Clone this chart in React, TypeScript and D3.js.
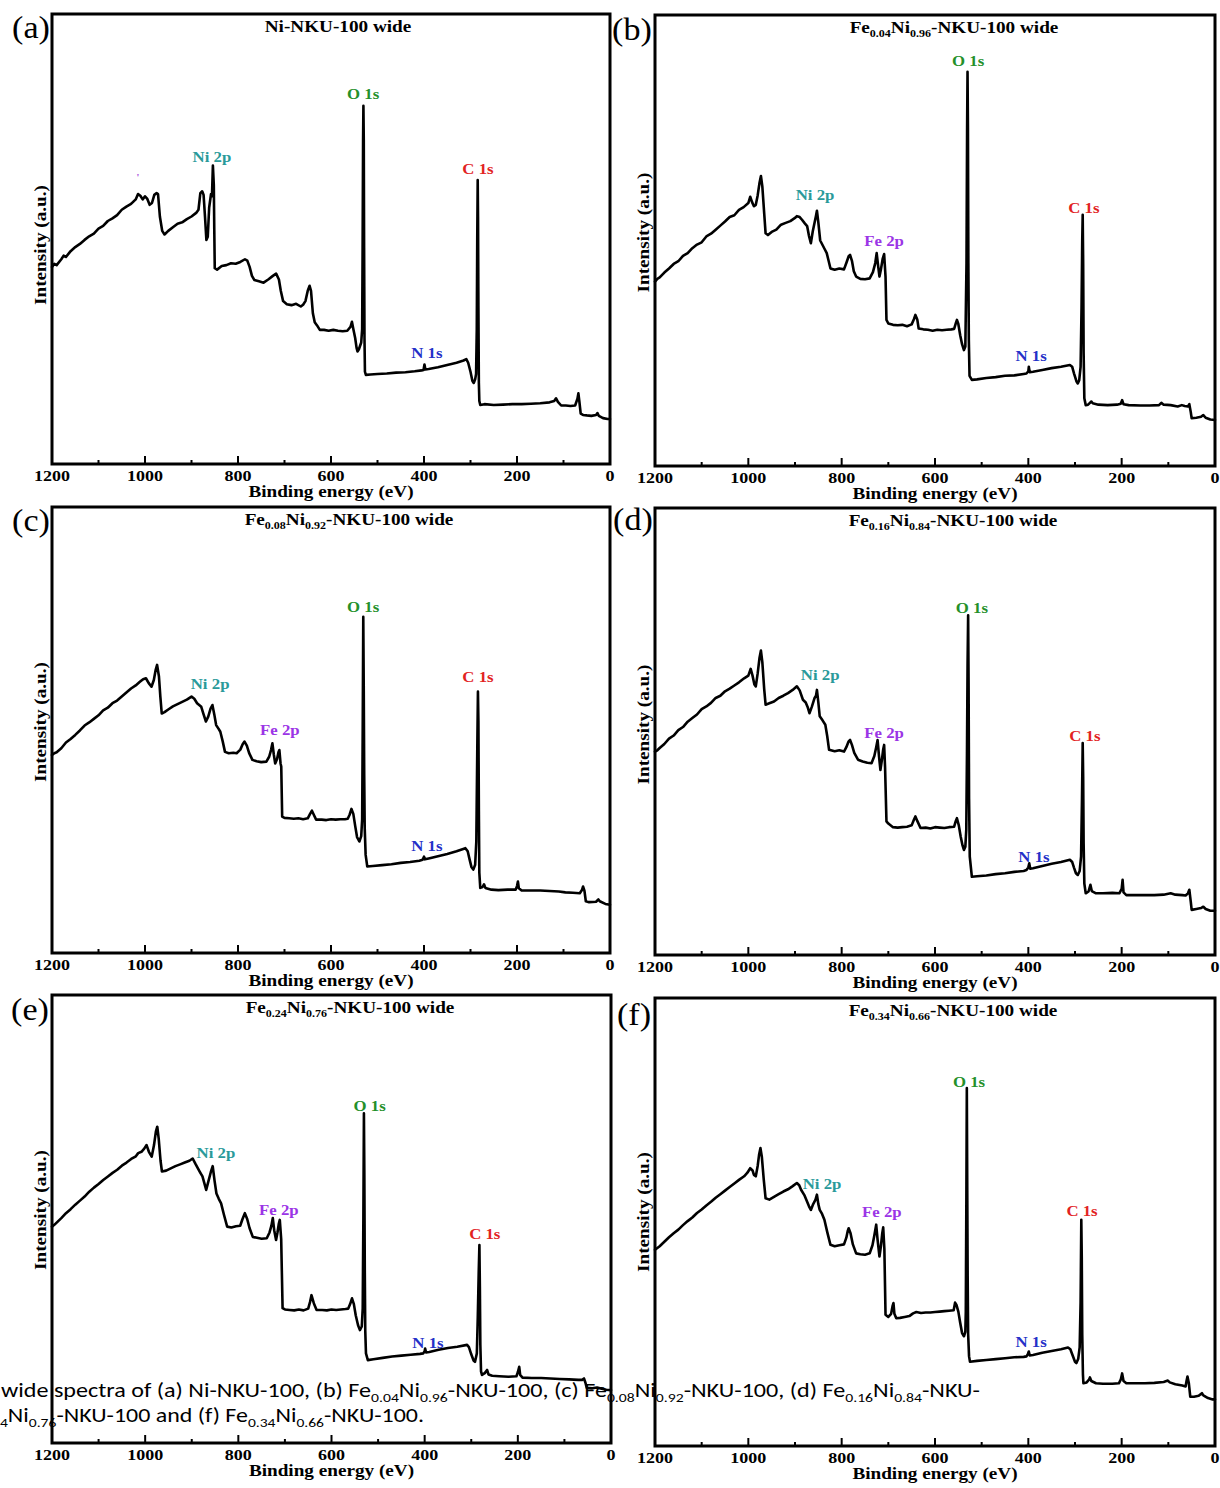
import React from "react";
import * as d3 from "d3";

// ---------- axis ticks ----------
const majorTicks = [1200, 1000, 800, 600, 400, 200, 0];
const minorTicks = [1100, 900, 700, 500, 300, 100];

// ---------- spectra: [binding energy (eV), intensity (a.u., 0-100 of frame)] ----------
const spectrumA: [number, number][] = [
  [1200, 43.8], [1195, 44.5], [1190, 44.2], [1180, 45.5], [1175, 46.3], [1170, 46.0], [1160, 47.3], [1150, 48.2],
  [1140, 48.9], [1130, 49.8], [1120, 50.6], [1110, 51.2], [1100, 52.3], [1090, 52.9], [1080, 54.0], [1070, 54.6],
  [1060, 55.3], [1050, 56.5], [1040, 57.2], [1030, 57.8], [1020, 58.8], [1015, 60.0], [1010, 59.6], [1005, 58.8],
  [1000, 59.5], [995, 58.9], [990, 57.6], [985, 58.0], [980, 59.8], [975, 60.2], [972, 60.0], [968, 55.0],
  [963, 51.8], [958, 51.0], [950, 51.8], [940, 52.6], [930, 53.4], [920, 53.7], [910, 54.4], [900, 55.0],
  [890, 55.8], [885, 56.5], [881, 60.2], [877, 60.6], [874, 59.8], [871, 55.0], [868, 49.8], [865, 50.5],
  [862, 57.0], [858, 60.0], [856, 59.5], [854, 66.3], [852, 62.0], [851, 52.0], [850, 43.5], [845, 43.2],
  [835, 44.0], [825, 44.2], [815, 44.6], [805, 44.5], [795, 44.9], [785, 45.5], [780, 45.2], [775, 43.8],
  [770, 41.8], [765, 40.9], [755, 40.6], [745, 40.3], [735, 41.0], [725, 41.8], [718, 42.3], [712, 41.0],
  [708, 38.5], [703, 36.2], [695, 35.5], [685, 35.3], [675, 35.6], [665, 35.0], [660, 35.4], [655, 36.2],
  [650, 38.5], [646, 39.6], [643, 38.5], [639, 33.5], [635, 31.5], [630, 30.8], [624, 29.8], [615, 29.8],
  [605, 29.6], [595, 29.8], [585, 29.6], [575, 29.5], [565, 29.6], [558, 30.5], [555, 31.6], [552, 30.0],
  [548, 28.0], [545, 25.8], [543, 25.0], [540, 25.5], [535, 27.0], [533, 30.0], [532, 48.0], [531, 72.0],
  [530.3, 79.6], [529.5, 72.0], [528.8, 48.0], [528, 28.0], [527, 20.5], [525, 19.8], [515, 19.9], [500, 20.0],
  [480, 20.1], [460, 20.3], [440, 20.4], [420, 20.6], [405, 20.8], [401, 20.9], [399, 22.1], [397, 21.0],
  [390, 21.1], [370, 21.5], [350, 22.0], [330, 22.5], [315, 23.0], [309, 23.3], [305, 22.5], [300, 20.5],
  [296, 18.5], [293, 18.0], [290, 18.8], [288, 20.0], [286.5, 30.0], [285.5, 50.0], [284.5, 63.1], [283.8, 55.0],
  [283, 35.0], [282, 18.0], [281, 14.0], [279, 13.1], [270, 13.3], [250, 13.1], [230, 13.2], [210, 13.3],
  [190, 13.3], [170, 13.4], [150, 13.5], [130, 13.7], [120, 14.0], [116, 14.6], [112, 13.8], [105, 13.0],
  [95, 13.0], [85, 12.9], [75, 13.0], [70, 14.5], [68, 15.7], [66, 14.0], [63, 11.2], [58, 10.9],
  [50, 10.8], [40, 10.7], [30, 10.9], [27, 11.3], [24, 10.7], [15, 10.2], [5, 10.0], [0, 10.0],
];

const spectrumB: [number, number][] = [
  [1200, 40.9], [1195, 41.5], [1190, 41.8], [1180, 42.9], [1170, 43.8], [1160, 44.8], [1150, 45.4], [1140, 46.6],
  [1130, 47.2], [1120, 48.3], [1110, 49.1], [1100, 49.6], [1090, 50.9], [1080, 51.5], [1070, 52.4], [1060, 53.3],
  [1050, 54.2], [1040, 55.2], [1030, 55.6], [1020, 56.8], [1010, 57.4], [1000, 58.3], [996, 59.7], [992, 58.5],
  [988, 57.6], [984, 57.9], [980, 60.0], [976, 62.8], [973, 64.3], [970, 62.0], [966, 56.0], [963, 51.6],
  [958, 51.2], [950, 51.9], [940, 52.4], [930, 53.5], [920, 53.9], [910, 54.3], [900, 55.0], [896, 55.4],
  [890, 55.2], [885, 54.6], [879, 53.8], [874, 53.2], [870, 51.0], [866, 49.4], [862, 52.0], [858, 54.0],
  [855, 55.5], [853, 56.6], [850, 54.0], [846, 50.0], [841, 49.0], [836, 48.0], [832, 47.2], [828, 45.5],
  [824, 43.8], [815, 43.5], [805, 43.8], [795, 43.6], [790, 45.0], [785, 46.5], [782, 46.8], [778, 45.5],
  [774, 43.2], [769, 42.0], [760, 41.5], [750, 41.4], [740, 41.6], [733, 43.0], [728, 45.0], [725, 47.2],
  [722, 44.5], [719, 42.0], [716, 43.5], [712, 46.0], [709, 47.0], [706, 42.0], [704, 32.4], [700, 31.6],
  [690, 31.3], [680, 31.2], [670, 31.3], [660, 31.0], [650, 31.4], [645, 32.6], [642, 33.5], [638, 32.5],
  [635, 30.5], [625, 30.3], [615, 30.2], [605, 30.0], [595, 30.2], [585, 30.1], [575, 30.2], [565, 30.3],
  [559, 30.4], [555, 31.8], [553, 32.4], [550, 31.5], [546, 29.0], [542, 27.0], [538, 25.7], [535, 26.5],
  [532.5, 45.0], [531.2, 75.0], [530.3, 87.4], [529.4, 75.0], [528.5, 45.0], [527.5, 28.0], [526, 20.0], [521, 19.1],
  [510, 19.2], [490, 19.5], [470, 19.7], [450, 20.0], [430, 20.1], [410, 20.4], [404, 20.5], [400, 21.0],
  [399, 22.0], [397, 20.8], [390, 20.9], [370, 21.3], [350, 21.7], [330, 22.0], [311, 22.4], [306, 22.0],
  [302, 20.5], [297, 18.8], [294, 18.3], [291, 19.0], [288, 22.0], [286, 35.0], [284.5, 50.0], [283.5, 55.7],
  [282.5, 45.0], [281.5, 25.0], [280, 15.0], [277, 13.5], [272, 13.6], [268, 14.0], [265, 14.3], [262, 13.9],
  [250, 13.6], [230, 13.5], [210, 13.6], [202, 13.8], [199, 14.6], [196, 13.7], [185, 13.5], [160, 13.4],
  [140, 13.4], [120, 13.5], [115, 14.0], [110, 13.6], [95, 13.5], [80, 13.2], [71, 13.5], [65, 13.3],
  [58, 13.2], [55, 13.7], [52, 12.0], [50, 10.6], [40, 10.7], [30, 10.9], [25, 11.3], [20, 10.7],
  [10, 10.3], [0, 10.2],
];

const spectrumC: [number, number][] = [
  [1200, 44.4], [1195, 44.8], [1190, 45.0], [1180, 45.9], [1170, 47.2], [1160, 48.0], [1150, 48.9], [1140, 49.9],
  [1130, 51.0], [1120, 51.7], [1110, 52.5], [1100, 53.3], [1090, 54.4], [1080, 55.0], [1070, 56.0], [1060, 56.6],
  [1050, 57.5], [1040, 58.4], [1030, 59.3], [1020, 60.0], [1011, 60.8], [1004, 61.4], [998, 61.6], [992, 60.5],
  [986, 59.7], [981, 61.2], [977, 63.5], [974, 64.6], [970, 62.0], [967, 57.5], [964, 53.7], [958, 54.0],
  [950, 54.6], [940, 55.3], [930, 55.8], [920, 56.3], [910, 56.8], [900, 57.5], [894, 57.0], [888, 56.0],
  [879, 55.2], [874, 53.5], [869, 51.9], [864, 53.0], [859, 54.8], [855, 55.6], [851, 53.5], [847, 51.1],
  [842, 50.3], [838, 49.6], [833, 47.5], [828, 45.1], [820, 44.8], [810, 44.9], [803, 44.8], [795, 45.6],
  [790, 46.8], [786, 47.4], [781, 46.5], [776, 44.8], [769, 43.3], [760, 43.0], [750, 42.8], [739, 42.9],
  [733, 44.0], [729, 45.5], [726, 47.0], [723, 44.5], [720, 42.5], [716, 43.5], [713, 45.0], [711, 45.5],
  [708.5, 42.5], [707, 41.8], [705, 30.6], [700, 30.3], [690, 30.2], [680, 30.1], [670, 30.2], [660, 30.0],
  [650, 30.2], [645, 31.2], [641, 31.9], [637, 31.0], [632, 29.9], [620, 29.9], [610, 29.8], [600, 30.0],
  [590, 29.9], [580, 30.0], [570, 30.0], [564, 30.1], [560, 31.0], [556, 32.3], [552, 31.2], [548, 28.5],
  [544, 26.0], [539, 25.0], [535, 26.2], [533, 30.0], [531.8, 50.0], [530.6, 75.4], [529.6, 60.0], [528.6, 40.0],
  [527.5, 28.0], [525.5, 22.0], [522, 19.4], [510, 19.5], [490, 19.7], [470, 19.9], [450, 20.2], [430, 20.4],
  [410, 20.7], [403, 20.9], [400, 21.6], [398, 21.0], [390, 21.2], [370, 21.7], [350, 22.2], [330, 22.8],
  [311, 23.5], [306, 22.8], [302, 21.0], [298, 19.3], [294, 18.7], [290, 19.8], [287.5, 25.0], [285.5, 45.0],
  [284, 58.6], [283, 52.0], [282, 32.0], [281, 18.0], [279, 14.6], [274, 14.8], [271, 15.4], [268, 14.6],
  [255, 14.2], [240, 14.1], [220, 14.2], [203, 14.2], [200, 15.0], [198, 16.0], [196, 14.5], [190, 14.0],
  [170, 14.0], [150, 14.0], [130, 13.9], [110, 13.8], [96, 13.6], [80, 13.5], [65, 13.4], [60, 14.2],
  [58, 14.9], [55, 14.0], [52, 11.6], [45, 11.4], [30, 11.5], [25, 12.0], [22, 11.6], [10, 11.0], [0, 10.8],
];

const spectrumD: [number, number][] = [
  [1200, 45.5], [1195, 45.8], [1190, 46.3], [1180, 47.2], [1170, 48.4], [1160, 49.1], [1150, 50.3], [1140, 51.0],
  [1130, 52.2], [1120, 53.0], [1110, 53.8], [1100, 55.0], [1090, 55.6], [1080, 56.4], [1070, 57.5], [1060, 58.0],
  [1050, 59.0], [1040, 59.6], [1030, 60.3], [1020, 61.0], [1009, 61.9], [1000, 62.5], [995, 64.0], [991, 62.5],
  [987, 60.5], [984, 60.1], [980, 63.0], [976, 66.5], [973, 68.1], [970, 65.5], [966, 59.5], [963, 56.0],
  [955, 56.3], [945, 56.7], [935, 57.5], [925, 58.0], [915, 58.6], [905, 59.3], [896, 60.1], [890, 59.2],
  [883, 57.1], [877, 56.5], [873, 55.5], [869, 54.1], [864, 55.5], [858, 57.5], [855, 58.0], [853, 59.3],
  [850, 56.5], [847, 53.4], [841, 52.5], [835, 51.5], [831, 49.0], [827, 45.9], [815, 45.6], [805, 45.8],
  [795, 45.5], [790, 46.5], [785, 47.8], [782, 48.1], [778, 47.0], [773, 45.2], [765, 43.7], [755, 43.3],
  [745, 43.0], [736, 42.9], [730, 44.5], [726, 46.5], [723, 48.1], [720, 44.5], [717, 41.4], [714, 43.5],
  [711, 46.0], [709, 47.0], [707, 42.0], [704, 29.9], [700, 29.4], [690, 28.6], [680, 28.5], [670, 28.6],
  [660, 28.7], [650, 29.0], [645, 30.3], [642, 31.0], [638, 30.0], [631, 28.4], [620, 28.5], [610, 28.3],
  [600, 28.6], [590, 28.5], [580, 28.4], [570, 28.6], [559, 28.7], [556, 29.8], [553, 30.6], [549, 29.0],
  [545, 26.5], [541, 24.5], [538, 23.5], [535, 24.2], [533, 28.0], [531.5, 45.0], [530.2, 65.0], [529, 76.0],
  [528, 60.0], [527, 35.0], [525.5, 22.0], [521, 17.5], [510, 17.6], [490, 17.8], [470, 18.1], [450, 18.3],
  [430, 18.6], [410, 18.8], [404, 19.0], [400, 19.6], [398, 20.5], [396, 19.3], [390, 19.4], [370, 19.9],
  [350, 20.4], [330, 20.8], [311, 21.3], [306, 20.8], [302, 19.5], [298, 18.3], [294, 17.9], [290, 18.8],
  [287, 22.0], [285, 35.0], [283.5, 47.4], [282.5, 40.0], [281.5, 25.0], [280, 16.0], [277, 13.8], [271, 14.2],
  [267, 15.7], [264, 14.3], [255, 13.8], [240, 13.8], [220, 13.9], [205, 13.8], [200, 14.8], [198, 16.8],
  [196, 14.0], [190, 13.4], [170, 13.4], [150, 13.4], [130, 13.4], [110, 13.5], [95, 13.8], [85, 13.5],
  [70, 13.4], [63, 13.3], [58, 13.8], [55, 14.6], [52, 12.0], [50, 10.1], [40, 10.3], [30, 10.5],
  [25, 10.8], [20, 10.3], [10, 9.9], [0, 9.9],
];

const spectrumE: [number, number][] = [
  [1200, 48.3], [1195, 48.7], [1190, 49.2], [1180, 50.2], [1170, 51.3], [1160, 52.2], [1150, 53.2], [1140, 54.1],
  [1130, 55.0], [1120, 56.1], [1110, 57.0], [1100, 57.8], [1090, 58.7], [1080, 59.5], [1070, 60.3], [1060, 61.0],
  [1050, 61.9], [1040, 62.6], [1030, 63.4], [1020, 64.0], [1015, 64.7], [1008, 65.0], [1002, 65.7], [997, 66.5],
  [992, 65.0], [986, 63.9], [981, 66.5], [977, 69.5], [974, 70.6], [971, 68.0], [967, 63.0], [964, 60.6],
  [955, 60.8], [945, 61.3], [935, 61.8], [925, 62.2], [915, 62.6], [905, 63.0], [898, 63.5], [892, 62.3],
  [883, 60.6], [877, 59.5], [873, 58.0], [869, 56.5], [864, 58.5], [859, 60.5], [855, 61.8], [851, 58.5],
  [847, 55.7], [842, 54.5], [837, 53.5], [831, 51.0], [824, 48.3], [815, 48.1], [805, 48.4], [796, 48.5],
  [791, 50.0], [786, 51.3], [781, 50.0], [776, 48.0], [769, 46.0], [760, 45.8], [750, 45.6], [739, 45.7],
  [733, 47.0], [729, 48.5], [726, 50.2], [723, 47.5], [719, 45.3], [716, 47.0], [713, 49.0], [711, 49.8],
  [708, 45.5], [705, 30.1], [700, 29.8], [690, 29.7], [680, 29.6], [670, 29.8], [660, 29.6], [650, 30.0],
  [646, 31.5], [643, 33.0], [638, 31.2], [632, 29.7], [620, 29.7], [610, 29.6], [600, 29.8], [590, 29.7],
  [580, 29.8], [570, 29.9], [564, 30.0], [560, 31.0], [556, 32.3], [552, 31.0], [548, 28.5], [543, 26.3],
  [539, 25.2], [535, 26.0], [533, 30.0], [531.6, 50.0], [530.4, 73.6], [529.5, 60.0], [528.5, 38.0], [527.5, 25.0],
  [526, 20.0], [522, 18.5], [510, 18.7], [490, 19.0], [470, 19.3], [450, 19.5], [430, 19.7], [410, 19.9],
  [403, 20.0], [400, 20.5], [399, 21.1], [397, 20.2], [390, 20.3], [370, 20.8], [350, 21.2], [330, 21.5],
  [309, 21.9], [305, 21.4], [300, 19.8], [295, 18.4], [292, 18.1], [288, 20.0], [286, 28.0], [284, 38.0],
  [282.5, 44.2], [281.5, 35.0], [280.5, 22.0], [279, 16.0], [277, 15.2], [271, 15.6], [266, 16.3], [263, 15.3],
  [255, 15.0], [240, 14.9], [220, 14.8], [203, 14.9], [200, 15.8], [197, 17.0], [195, 15.2], [190, 14.6],
  [170, 14.5], [150, 14.5], [130, 14.4], [110, 14.3], [90, 14.2], [70, 14.1], [62, 14.1], [58, 14.4],
  [55, 13.5], [52, 12.3], [40, 12.2], [30, 12.4], [20, 12.1], [10, 11.9], [0, 11.8],
];

const spectrumF: [number, number][] = [
  [1200, 43.8], [1195, 44.2], [1190, 44.6], [1180, 45.6], [1170, 46.6], [1160, 47.5], [1150, 48.3], [1140, 49.3],
  [1130, 50.2], [1120, 51.0], [1110, 52.0], [1100, 52.8], [1090, 53.7], [1080, 54.5], [1070, 55.4], [1060, 56.2],
  [1050, 57.0], [1040, 57.8], [1030, 58.6], [1020, 59.4], [1009, 60.2], [1002, 61.0], [996, 62.0], [991, 61.5],
  [988, 60.5], [984, 60.2], [980, 62.5], [977, 65.0], [974, 66.5], [971, 64.5], [967, 59.5], [963, 55.3],
  [955, 55.0], [945, 55.6], [935, 56.2], [925, 56.8], [915, 57.3], [905, 58.0], [896, 58.7], [891, 58.2],
  [887, 57.2], [880, 56.0], [874, 54.5], [870, 53.5], [866, 52.7], [861, 54.0], [856, 55.0], [853, 56.1],
  [850, 54.0], [847, 52.7], [842, 51.8], [837, 50.5], [831, 47.8], [824, 44.9], [815, 44.6], [805, 44.8],
  [795, 45.0], [790, 46.5], [787, 48.0], [785, 48.6], [781, 47.5], [776, 45.0], [769, 43.0], [760, 42.8],
  [750, 42.7], [740, 43.0], [734, 44.8], [730, 47.0], [726, 49.4], [723, 46.0], [719, 42.3], [716, 44.5],
  [713, 47.5], [711, 48.8], [708.5, 44.0], [706, 29.3], [700, 28.8], [694, 29.5], [691, 31.2], [689, 31.9],
  [687, 29.5], [683, 28.5], [675, 28.6], [665, 28.8], [655, 29.0], [647, 29.6], [640, 29.9], [630, 29.7],
  [620, 29.8], [610, 29.8], [600, 29.9], [590, 30.0], [580, 30.1], [570, 30.2], [560, 30.3], [557, 32.0],
  [554, 31.5], [550, 30.0], [546, 27.5], [542, 25.2], [538, 24.5], [535, 25.5], [534, 30.0], [532.8, 55.0],
  [531.8, 79.9], [531, 60.0], [530, 38.0], [529, 25.0], [527, 20.0], [525, 18.8], [510, 19.0], [490, 19.2],
  [470, 19.4], [450, 19.6], [430, 19.8], [410, 19.9], [404, 20.0], [401, 20.5], [399, 21.1], [397, 20.2],
  [390, 20.3], [370, 20.8], [350, 21.2], [330, 21.6], [315, 22.0], [310, 21.6], [305, 20.2], [300, 18.8],
  [297, 18.5], [293, 19.5], [290, 22.0], [288, 32.0], [286.5, 50.5], [285.5, 42.0], [284.5, 25.0], [283, 16.0],
  [282, 14.0], [275, 14.2], [270, 14.8], [268, 15.3], [265, 14.5], [255, 14.0], [240, 13.9], [220, 13.9],
  [206, 14.0], [202, 14.8], [199, 16.2], [196, 14.5], [190, 14.0], [170, 14.0], [150, 14.0], [130, 14.1],
  [110, 14.3], [101, 14.6], [97, 14.2], [85, 13.8], [70, 13.5], [63, 13.3], [61, 14.5], [59, 15.5],
  [56, 14.0], [53, 11.0], [45, 11.0], [35, 11.2], [28, 11.8], [25, 11.3], [15, 10.7], [5, 10.4], [0, 10.4],
];

// ---------- peak annotations: [label, binding energy, intensity] ----------
type Ann = [string, number, number];
const peaksA: Ann[] = [["Ni 2p", 856, 67.1], ["O 1s", 531, 81.1], ["C 1s", 284, 64.4], ["N 1s", 394, 23.6], ["'", 1015, 63.0]];
const peaksB: Ann[] = [["Ni 2p", 857, 59.0], ["Fe 2p", 709, 48.8], ["O 1s", 529, 88.7], ["C 1s", 281, 56.1], ["N 1s", 394, 23.3]];
const peaksC: Ann[] = [["Ni 2p", 860, 59.2], ["Fe 2p", 710, 48.9], ["O 1s", 531, 76.5], ["C 1s", 284, 60.8], ["N 1s", 394, 22.9]];
const peaksD: Ann[] = [["Ni 2p", 846, 61.5], ["Fe 2p", 709, 48.5], ["O 1s", 521, 76.5], ["C 1s", 279, 47.9], ["N 1s", 388, 20.8]];
const peaksE: Ann[] = [["Ni 2p", 848, 63.6], ["Fe 2p", 713, 50.9], ["O 1s", 518, 74.1], ["C 1s", 271, 45.5], ["N 1s", 393, 21.2]];
const peaksF: Ann[] = [["Ni 2p", 842, 57.4], ["Fe 2p", 714, 51.1], ["O 1s", 527, 80.1], ["C 1s", 285, 51.3], ["N 1s", 394, 22.1]];

// ---------- titles: [text, isSubscript] ----------
type Tok = [string, boolean];
const titleA: Tok[] = [["Ni-NKU-100 wide", false]];
const titleB: Tok[] = [["Fe", false], ["0.04", true], ["Ni", false], ["0.96", true], ["-NKU-100 wide", false]];
const titleC: Tok[] = [["Fe", false], ["0.08", true], ["Ni", false], ["0.92", true], ["-NKU-100 wide", false]];
const titleD: Tok[] = [["Fe", false], ["0.16", true], ["Ni", false], ["0.84", true], ["-NKU-100 wide", false]];
const titleE: Tok[] = [["Fe", false], ["0.24", true], ["Ni", false], ["0.76", true], ["-NKU-100 wide", false]];
const titleF: Tok[] = [["Fe", false], ["0.34", true], ["Ni", false], ["0.66", true], ["-NKU-100 wide", false]];

const captionLine1: Tok[] = [
  ["wide spectra of (a) Ni-NKU-100, (b) Fe", false], ["0.04", true], ["Ni", false], ["0.96", true],
  ["-NKU-100, (c) Fe", false], ["0.08", true], ["Ni", false], ["0.92", true],
  ["-NKU-100, (d) Fe", false], ["0.16", true], ["Ni", false], ["0.84", true], ["-NKU-", false],
];
const captionLine2: Tok[] = [
  ["4", true], ["Ni", false], ["0.76", true], ["-NKU-100 and (f) Fe", false], ["0.34", true], ["Ni", false], ["0.66", true], ["-NKU-100.", false],
];

const peakColors: Record<string, string> = {
  "Ni 2p": "#2a9a9a",
  "Fe 2p": "#9b35e6",
  "O 1s": "#24902a",
  "C 1s": "#e2231f",
  "N 1s": "#2430c8",
  "'": "#b060e0",
};

// ---------- layout ----------
const panels = [
  { letter: "(a)", data: spectrumA, peaks: peaksA, title: titleA, left: 52, right: 610, top: 14, bottom: 464, titleX: 338, letterX: 31, letterY: 38, labelDy: 6 },
  { letter: "(b)", data: spectrumB, peaks: peaksB, title: titleB, left: 655, right: 1215, top: 15, bottom: 466, titleX: 954, letterX: 632, letterY: 40, labelDy: -8 },
  { letter: "(c)", data: spectrumC, peaks: peaksC, title: titleC, left: 52, right: 610, top: 507, bottom: 953, titleX: 349, letterX: 31, letterY: 531, labelDy: -8 },
  { letter: "(d)", data: spectrumD, peaks: peaksD, title: titleD, left: 655, right: 1215, top: 508, bottom: 955, titleX: 953, letterX: 633, letterY: 530, labelDy: -7 },
  { letter: "(e)", data: spectrumE, peaks: peaksE, title: titleE, left: 52, right: 611, top: 995, bottom: 1443, titleX: 350, letterX: 30, letterY: 1020, labelDy: -9 },
  { letter: "(f)", data: spectrumF, peaks: peaksF, title: titleF, left: 655, right: 1215, top: 998, bottom: 1446, titleX: 953, letterX: 634, letterY: 1025, labelDy: -10 },
];

const SERIF = "'Liberation Serif', 'Times New Roman', Times, serif";
const SX = 1.2;

function Tokens({ toks, size, subSize, subDy }: { toks: Tok[]; size: number; subSize: number; subDy: number }) {
  const out: React.ReactNode[] = [];
  let shifted = 0;
  toks.forEach((t, i) => {
    const [txt, sub] = t;
    let dy = 0;
    if (sub && shifted === 0) { dy = subDy; shifted = subDy; }
    else if (!sub && shifted !== 0) { dy = -shifted; shifted = 0; }
    out.push(
      <tspan key={i} dy={dy} fontSize={sub ? subSize : size}>{txt}</tspan>
    );
  });
  return <>{out}</>;
}

function Panel({ p }: { p: (typeof panels)[number] }) {
  const x = d3.scaleLinear().domain([1200, 0]).range([p.left, p.right]);
  const y = d3.scaleLinear().domain([0, 100]).range([p.bottom, p.top]);
  const line = d3.line<[number, number]>().x((d) => x(d[0])).y((d) => y(d[1]));
  const cx = (p.left + p.right) / 2;
  const cy = (p.top + p.bottom) / 2 + p.labelDy;
  return (
    <g>
      <path d={line(p.data) || ""} fill="none" stroke="#000" strokeWidth={2.6} strokeLinejoin="round" strokeLinecap="round" />
      <rect x={p.left} y={p.top} width={p.right - p.left} height={p.bottom - p.top} fill="none" stroke="#000" strokeWidth={3} />
      {majorTicks.map((t) => (
        <line key={"M" + t} x1={x(t)} x2={x(t)} y1={p.bottom} y2={p.bottom - 8} stroke="#000" strokeWidth={2} />
      ))}
      {minorTicks.map((t) => (
        <line key={"m" + t} x1={x(t)} x2={x(t)} y1={p.bottom} y2={p.bottom - 4} stroke="#000" strokeWidth={2} />
      ))}
      {majorTicks.map((t) => (
        <text key={"L" + t} transform={`translate(${x(t)},${p.bottom + 17}) scale(${SX},1)`} textAnchor="middle"
          fontFamily={SERIF} fontWeight="bold" fontSize={15} fill="#000">{t}</text>
      ))}
      <text transform={`translate(${cx},${p.bottom + 33}) scale(${SX},1)`} textAnchor="middle"
        fontFamily={SERIF} fontWeight="bold" fontSize={16} fill="#000">Binding energy (eV)</text>
      <text transform={`translate(${p.left - 12},${cy}) rotate(-90) scale(${SX},1)`} textAnchor="middle"
        fontFamily={SERIF} fontWeight="bold" fontSize={16} fill="#000" dy="0.35em">Intensity (a.u.)</text>
      <text transform={`translate(${p.titleX},${p.top + 18}) scale(${SX},1)`} textAnchor="middle"
        fontFamily={SERIF} fontWeight="bold" fontSize={16} fill="#000">
        <Tokens toks={p.title} size={16} subSize={10} subDy={4} />
      </text>
      <text transform={`translate(${p.letterX},${p.letterY}) scale(1.1,1)`} textAnchor="middle"
        fontFamily={SERIF} fontSize={31} fill="#000">{p.letter}</text>
      {p.peaks.map(([lab, be, it]) => (
        <text key={lab} transform={`translate(${x(be)},${y(it)}) scale(${SX},1)`} textAnchor="middle"
          fontFamily={SERIF} fontWeight="bold" fontSize={lab === "'" ? 10 : 14} fill={peakColors[lab]}>{lab}</text>
      ))}
    </g>
  );
}

export default function App() {
  const capFont = "Carlito, Calibri, Lato, 'Open Sans', sans-serif";
  return (
    <div style={{ position: "absolute", left: 0, top: 0, width: 1220, height: 1488, background: "#fff" }}>
      <svg width={1220} height={1488} viewBox="0 0 1220 1488" style={{ display: "block" }}>
        <rect x={0} y={0} width={1220} height={1488} fill="#fff" />
        {panels.map((p) => (
          <Panel key={p.letter} p={p} />
        ))}
        <text x={1} y={1397} fontFamily={capFont} fontSize={20} fill="#000" textLength={979} lengthAdjust="spacingAndGlyphs">
          <Tokens toks={captionLine1} size={20} subSize={13} subDy={5} />
        </text>
        <text x={0} y={1422} fontFamily={capFont} fontSize={20} fill="#000" textLength={424} lengthAdjust="spacingAndGlyphs">
          <Tokens toks={captionLine2} size={20} subSize={13} subDy={5} />
        </text>
      </svg>
    </div>
  );
}
